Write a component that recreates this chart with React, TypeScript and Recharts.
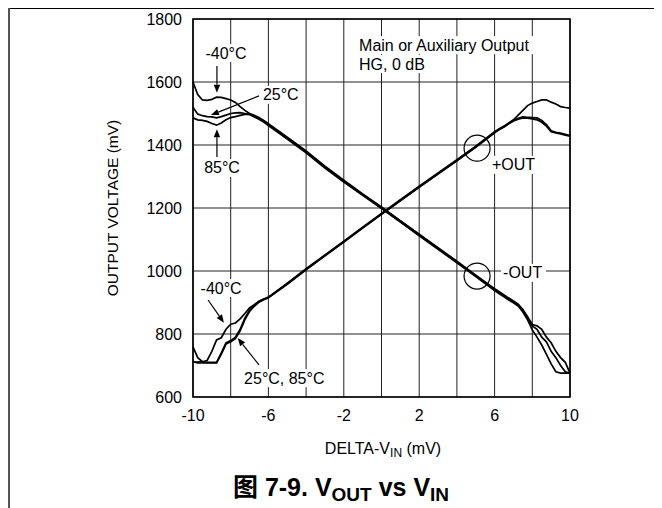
import React from 'react';
import { LineChart, Line, XAxis, YAxis, CartesianGrid, ReferenceLine, ReferenceDot, ReferenceArea } from 'recharts';

const FONT = '"Liberation Sans", Arial, Helvetica, "Noto Sans CJK SC", sans-serif';

// DELTA-VIN (mV) sample positions
const vin = [-10, -9.75, -9.5, -9.25, -9, -8.75, -8.5, -8.25, -8, -7.75, -7.5, -7.25, -7, -6.75, -6.5, -6.25, -6,
  -5, -4, -3, -2, -1, 0, 1, 2, 3, 4, 5,
  6, 6.25, 6.5, 6.75, 7, 7.25, 7.5, 7.75, 8, 8.25, 8.5, 8.75, 9, 9.25, 9.5, 9.75, 10];

// +OUT (mV)
const plusOutM40 = [711, 711, 712, 716, 745, 781, 788, 815, 831, 835, 848, 865, 883, 893, 904, 911, 917,
  961, 1007, 1051, 1095, 1139, 1183, 1226, 1269, 1311, 1353, 1396,
  1442, 1452, 1460, 1470, 1480, 1495, 1510, 1525, 1533, 1538, 1543, 1543, 1536, 1530, 1522, 1519, 1517];
const plusOut25 = [759, 725, 712, 710, 710, 710, 740, 772, 779, 790, 815, 850, 875, 890, 903, 910, 916,
  959, 1005, 1049, 1093, 1137, 1181, 1224, 1267, 1309, 1351, 1394,
  1440, 1450, 1458, 1468, 1478, 1485, 1489, 1488, 1487, 1486, 1478, 1465, 1445, 1440, 1438, 1434, 1430];
const plusOut85 = [712, 708, 708, 708, 708, 708, 735, 768, 775, 785, 810, 845, 872, 888, 901, 909, 915,
  958, 1004, 1048, 1092, 1136, 1180, 1223, 1266, 1308, 1350, 1393,
  1439, 1449, 1457, 1467, 1476, 1482, 1486, 1485, 1483, 1480, 1472, 1460, 1442, 1438, 1435, 1431, 1428];

// -OUT (mV)
const minusOutM40 = [1600, 1560, 1543, 1542, 1545, 1552, 1551, 1547, 1543, 1535, 1522, 1510, 1500, 1494, 1487, 1478, 1468,
  1425, 1381, 1333, 1288, 1245, 1203, 1160, 1117, 1074, 1031, 987,
  944, 934, 924, 914, 905, 895, 878, 855, 830, 826, 815, 790, 772, 745, 725, 710, 676];
const minusOut25 = [1520, 1498, 1493, 1490, 1489, 1486, 1490, 1495, 1500, 1502, 1503, 1500, 1497, 1491, 1485, 1476, 1465,
  1422, 1378, 1330, 1285, 1243, 1201, 1158, 1115, 1072, 1029, 985,
  941, 931, 921, 911, 902, 892, 873, 848, 826, 815, 790, 775, 745, 725, 700, 680, 676];
const minusOut85 = [1486, 1480, 1478, 1475, 1468, 1463, 1470, 1480, 1487, 1490, 1494, 1497, 1497, 1489, 1482, 1473, 1462,
  1419, 1375, 1327, 1282, 1240, 1198, 1155, 1112, 1069, 1026, 982,
  938, 928, 918, 908, 899, 889, 870, 845, 813, 790, 765, 735, 705, 680, 676, 676, 676];

const xTicks = [-10, -8, -6, -4, -2, 0, 2, 4, 6, 8, 10];
const xTickLabels = ['-10', '', '-6', '', '-2', '', '2', '', '6', '', '10'];
const yTicks = [600, 800, 1000, 1200, 1400, 1600, 1800];

const series = [
  { key: 'pM40', values: plusOutM40 },
  { key: 'p25', values: plusOut25 },
  { key: 'p85', values: plusOut85 },
  { key: 'mM40', values: minusOutM40 },
  { key: 'm25', values: minusOut25 },
  { key: 'm85', values: minusOut85 },
];

const data = vin.map((v, i) => {
  const row: any = { vin: v };
  series.forEach((s) => { row[s.key] = s.values[i]; });
  return row;
});

const arrowShape = (head: boolean) => (p: any) => {
  const { x1, y1, x2, y2 } = p;
  const ang = Math.atan2(y2 - y1, x2 - x1);
  const L = 8, W = 3.2;
  const bx = x2 - L * Math.cos(ang), by = y2 - L * Math.sin(ang);
  const px = -Math.sin(ang) * W, py = Math.cos(ang) * W;
  return (
    <g>
      <line x1={x1} y1={y1} x2={head ? bx : x2} y2={head ? by : y2} stroke="#000" strokeWidth={1.2} />
      {head && <polygon points={`${x2},${y2} ${bx + px},${by + py} ${bx - px},${by - py}`} fill="#000" />}
    </g>
  );
};

const textShape = (txt: string, anchor: 'start' | 'middle', w: number) => (p: any) => {
  const { cx, cy } = p;
  const x0 = anchor === 'middle' ? cx - w / 2 : cx;
  return (
    <g>
      <rect x={x0 - 2} y={cy - 9} width={w + 4} height={18} fill="#fff" />
      <text x={cx} y={cy} textAnchor={anchor} dominantBaseline="central" fontSize={16} fontFamily={FONT} fill="#000">{txt}</text>
    </g>
  );
};

const labels = [
  { x: -8.25, y: 1692, t: '-40°C', a: 'middle', w: 41 },
  { x: -6.29, y: 1559, t: '25°C', a: 'start', w: 36 },
  { x: -8.46, y: 1327, t: '85°C', a: 'middle', w: 36 },
  { x: -8.51, y: 946, t: '-40°C', a: 'middle', w: 41 },
  { x: -7.29, y: 660, t: '25°C, 85°C', a: 'start', w: 80 },
  { x: 5.86, y: 1337, t: '+OUT', a: 'start', w: 43 },
  { x: 6.45, y: 994, t: '-OUT', a: 'start', w: 41 },
  { x: -1.19, y: 1717, t: 'Main or Auxiliary Output', a: 'start', w: 172 },
  { x: -1.19, y: 1657, t: 'HG, 0 dB', a: 'start', w: 64 },
];

const arrows = [
  { x1: -8.73, y1: 1651, x2: -8.73, y2: 1566, h: true },
  { x1: -6.5, y1: 1556, x2: -9.05, y2: 1495, h: true },
  { x1: -8.73, y1: 1362, x2: -8.73, y2: 1450, h: true },
  { x1: -9.2, y1: 908, x2: -8.36, y2: 836, h: true },
  { x1: -6.5, y1: 702, x2: -7.63, y2: 787, h: true },
];

const circles = [
  { x: 5.07, y: 1390 },
  { x: 5.07, y: 984 },
];

export default function App() {
  return (
    <div style={{ position: 'relative', width: 662, height: 508, marginLeft: -8, marginTop: -8, background: '#fff', fontFamily: FONT }}>
      <div style={{ position: 'absolute', left: 0, top: 0 }}>
        <LineChart width={662} height={508} data={data} margin={{ top: 19, right: 92, left: 133, bottom: 81 }}>
          <CartesianGrid stroke="#222" strokeWidth={1} />
          <XAxis dataKey="vin" type="number" domain={[-10, 10]} ticks={xTicks} interval={0}
            tickFormatter={(v: number) => xTickLabels[xTicks.indexOf(v)] ?? ''}
            axisLine={false} tickLine={false} tickSize={0} tickMargin={13} height={30}
            tick={{ fontSize: 16, fill: '#000', fontFamily: FONT }} />
          <YAxis type="number" domain={[600, 1800]} ticks={yTicks} interval={0}
            axisLine={false} tickLine={false} tickSize={0} tickMargin={11} width={60}
            tick={{ fontSize: 16, fill: '#000', fontFamily: FONT }} />
          {labels.map((l, i) => (
            <ReferenceDot key={'l' + i} x={l.x} y={l.y} r={1} shape={textShape(l.t, l.a as any, l.w)} />
          ))}
          {series.map((s) => (
            <Line key={s.key} dataKey={s.key} type="linear" stroke="#000" strokeWidth={1.7} dot={false} isAnimationActive={false} />
          ))}
          {arrows.map((a, i) => (
            <ReferenceLine key={'a' + i} segment={[{ x: a.x1, y: a.y1 }, { x: a.x2, y: a.y2 }]} shape={arrowShape(a.h)} />
          ))}
          {circles.map((c, i) => (
            <ReferenceDot key={'c' + i} x={c.x} y={c.y} r={13} fill="none" stroke="#000" strokeWidth={1.2} />
          ))}
          <ReferenceArea x1={-10} x2={10} y1={600} y2={1800} fill="none" stroke="#000" strokeWidth={1.6} />
        </LineChart>
      </div>
      <svg width={662} height={508} style={{ position: 'absolute', left: 0, top: 0, pointerEvents: 'none' }}>
        <line x1={8} y1={8.5} x2={662} y2={8.5} stroke="#000" strokeWidth={1} />
        <line x1={9} y1={8} x2={9} y2={508} stroke="#555" strokeWidth={2} />
      </svg>
      <div style={{ position: 'absolute', left: 113, top: 208, transform: 'translate(-50%, -50%) rotate(-90deg)', whiteSpace: 'nowrap', fontSize: 15.5, color: '#000' }}>
        OUTPUT VOLTAGE (mV)
      </div>
      <div style={{ position: 'absolute', left: 383, top: 450, transform: 'translate(-50%, -50%)', whiteSpace: 'nowrap', fontSize: 16, color: '#000' }}>
        DELTA-V<sub style={{ fontSize: 12, verticalAlign: '-3px' }}>IN</sub> (mV)
      </div>
      <div style={{ position: 'absolute', left: 341, top: 486, transform: 'translate(-50%, -50%)', whiteSpace: 'nowrap', fontSize: 25, fontWeight: 'bold', color: '#000' }}>
        图 7-9. V<sub style={{ fontSize: 19, verticalAlign: '-5px' }}>OUT</sub> vs V<sub style={{ fontSize: 19, verticalAlign: '-5px' }}>IN</sub>
      </div>
    </div>
  );
}
